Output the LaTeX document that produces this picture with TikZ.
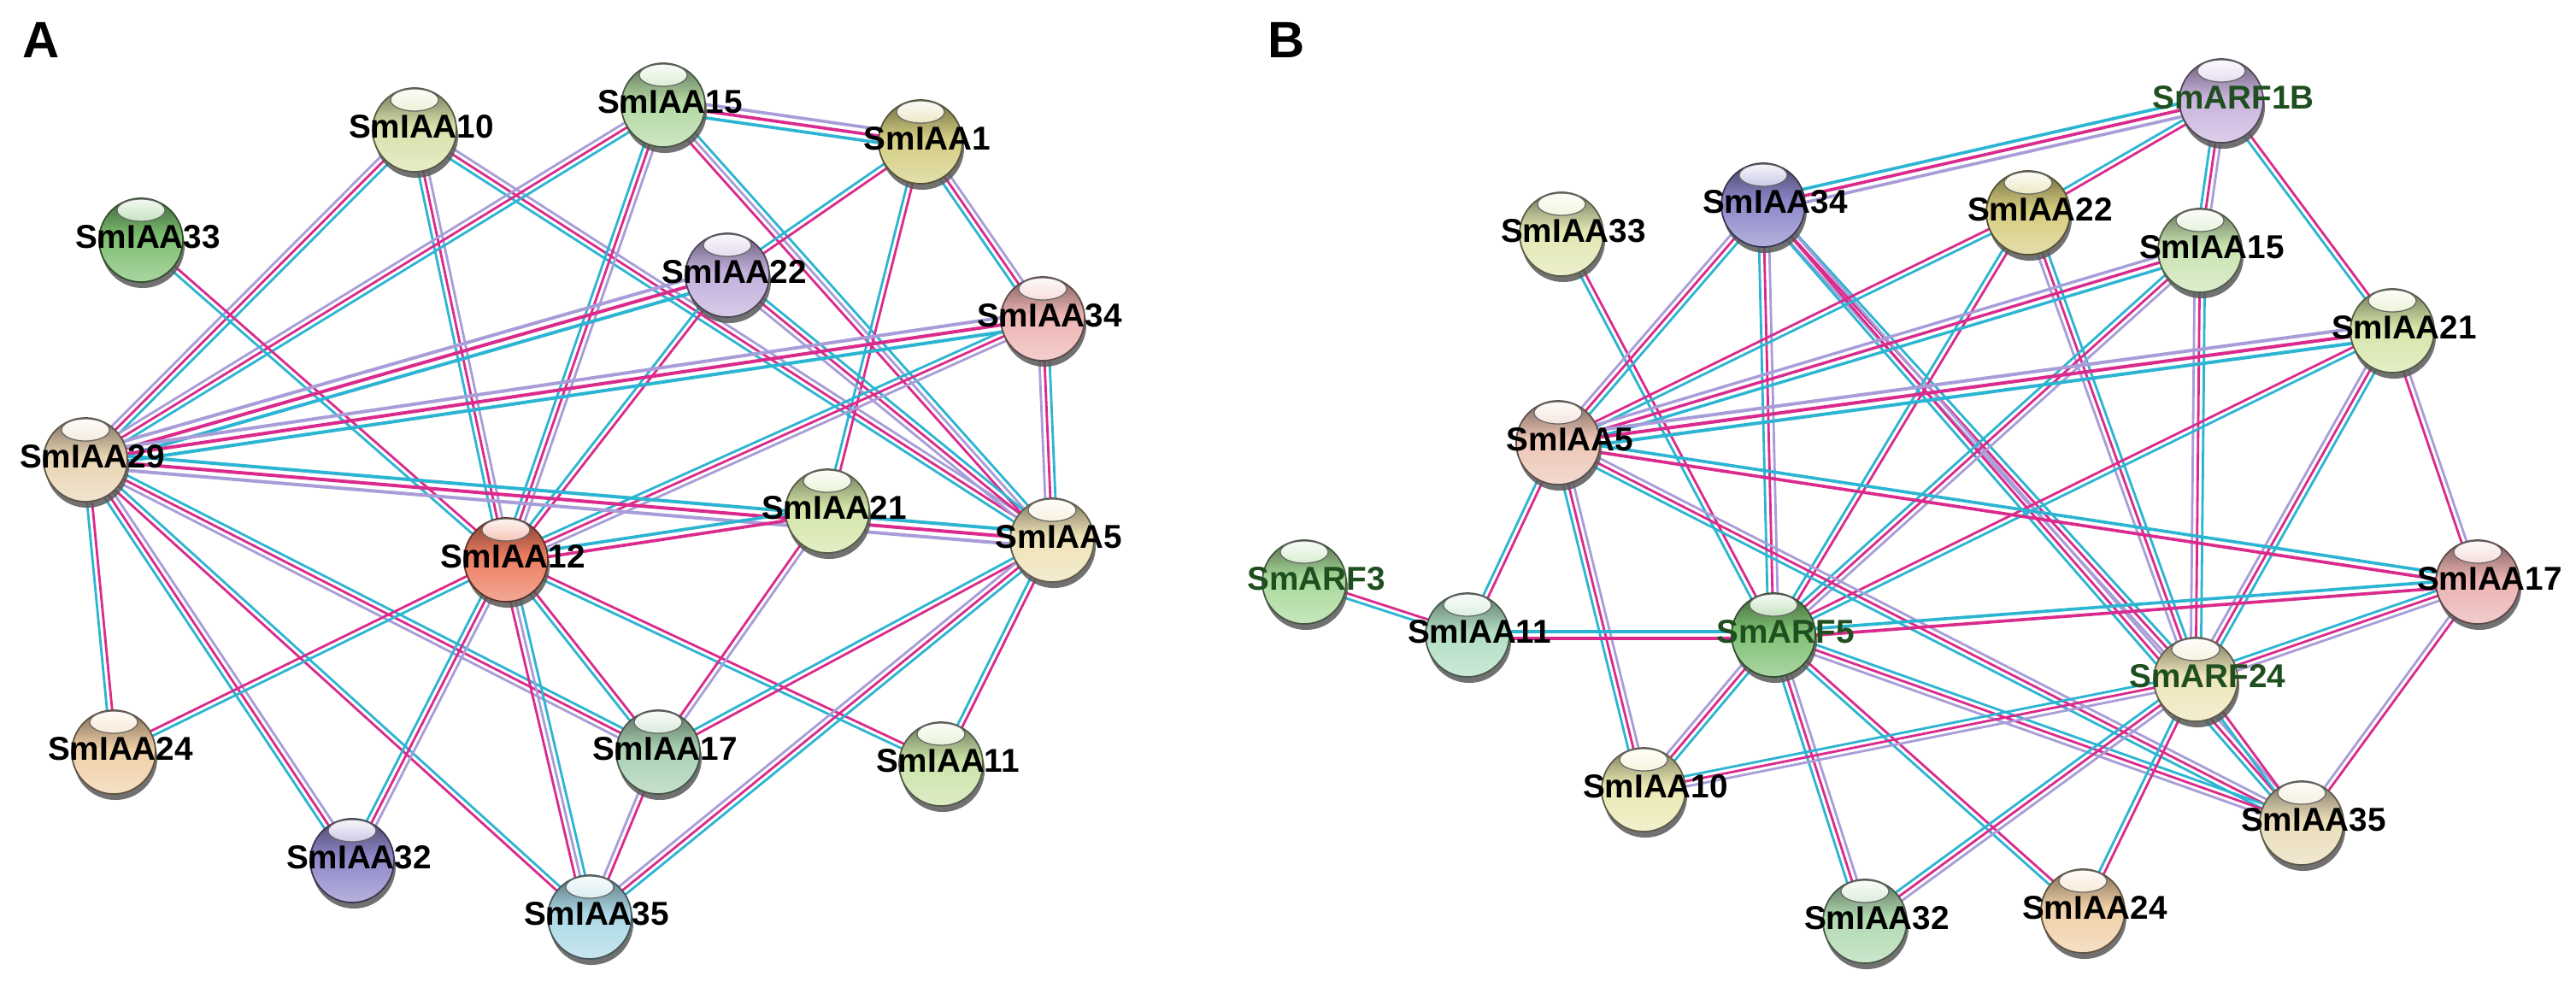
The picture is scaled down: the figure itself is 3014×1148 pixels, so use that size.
\documentclass[tikz,border=0pt]{standalone}
\usepackage{fontspec}
\setmainfont{Liberation Sans}
\usetikzlibrary{calc,backgrounds}
\definecolor{ecy}{HTML}{2CB5D2}
\definecolor{emg}{HTML}{DA2A8C}
\definecolor{elv}{HTML}{A89DD8}
\definecolor{arfg}{HTML}{1F4F1F}
\colorlet{ballc}{gray}
\pgfdeclareverticalshading[ballc]{stringball}{100bp}{
 color(0bp)=(ballc!65!white);
 color(25bp)=(ballc!65!white);
 color(38bp)=(ballc!82!white);
 color(52bp)=(ballc);
 color(64bp)=(ballc!75!black);
 color(75bp)=(ballc!50!black);
 color(100bp)=(ballc!50!black)}
\tikzset{
 ballnode/.style={circle,minimum size=0.98cm,inner sep=0pt,shade,shading=stringball,draw=ballc!40!black,line width=0.5pt},
 hilite/.style={top color=white!92!ballc,bottom color=ballc!45!white,draw=black!60,line width=0.35pt},
 lab/.style={font=\fontsize{11}{13}\selectfont\bfseries,anchor=base,inner sep=0pt},
 panel/.style={font=\fontsize{17}{20}\selectfont\bfseries,inner sep=0pt}
}
\def\lxo{8}
\newcommand\sball[6]{%
 \definecolor{ballc}{HTML}{#4}%
 \fill[black!65,opacity=0.85] (#2+2,#3+7) circle[radius=0.49cm];
 \node[ballnode] (#1) at (#2,#3) {};
 \path[hilite] (#2,#3-35) ellipse[x radius=0.28cm,y radius=0.13cm];
 \node[lab,text=#6] (#1l) at (#2+\lxo,#3+9) {#5};
}
\newcommand\Eline[7]{\draw[line width=#7pt,draw=#6] ($(#1)!#3pt!#4:(#2)$) -- ($(#2)!#3pt!#5:(#1)$);}
\newcommand\Etwo[5][1]{%
 \pgfmathsetmacro\eo{0.85*#1}\pgfmathsetmacro\ew{0.8*#1}%
 \Eline{#2}{#3}{\eo}{90}{-90}{#4}{\ew}%
 \Eline{#2}{#3}{\eo}{-90}{90}{#5}{\ew}}
\newcommand\Ethree[6][1]{%
 \pgfmathsetmacro\eo{1.7*#1}\pgfmathsetmacro\ew{0.8*#1}%
 \Eline{#2}{#3}{\eo}{90}{-90}{#4}{\ew}%
 \Eline{#2}{#3}{0}{90}{-90}{#5}{\ew}%
 \Eline{#2}{#3}{\eo}{-90}{90}{#6}{\ew}}
\begin{document}
\begin{tikzpicture}[x=0.01cm,y=-0.01cm]
\useasboundingbox (0,0) rectangle (3014,1148);
\node[panel] (pA) at (48,47) {A};
\node[panel] (pB) at (1505,47) {B};
% ---------- Panel A nodes
\sball{a10}{485}{152}{D9E1AA}{SmIAA10}{black}
\sball{a15}{776}{123}{B3D8A3}{SmIAA15}{black}
\sball{a1}{1077}{166}{D4CD82}{SmIAA1}{black}
\sball{a33}{165}{281}{7DBF70}{SmIAA33}{black}
\sball{a22}{851}{322}{C2AFDC}{SmIAA22}{black}
\sball{a34}{1220}{373}{EDB4B3}{SmIAA34}{black}
\sball{a29}{100}{538}{E9D4B3}{SmIAA29}{black}
\sball{a12}{592}{655}{EC7C5F}{SmIAA12}{black}
\sball{a21}{968}{598}{D3E5A8}{SmIAA21}{black}
\sball{a5}{1231}{632}{EEE2B7}{SmIAA5}{black}
\sball{a24}{133}{880}{F0CFA6}{SmIAA24}{black}
\sball{a17}{770}{880}{A9D0B2}{SmIAA17}{black}
\sball{a11}{1101}{894}{CBE3A8}{SmIAA11}{black}
\sball{a32}{412}{1007}{8F88C9}{SmIAA32}{black}
\sball{a35}{690}{1073}{ABD8E6}{SmIAA35}{black}
% ---------- Panel B nodes
\def\lxo{14}
\sball{b1B}{2599}{118}{C9B3DD}{SmARF1B}{arfg}
\sball{b34}{2063}{240}{8C88CA}{SmIAA34}{black}
\sball{b22}{2373}{249}{D6CC7E}{SmIAA22}{black}
\sball{b33}{1827}{274}{E2E7B2}{SmIAA33}{black}
\sball{b15}{2574}{293}{C9E4B2}{SmIAA15}{black}
\sball{b21}{2799}{387}{D5E5A9}{SmIAA21}{black}
\sball{b5}{1823}{518}{ECC5B5}{SmIAA5}{black}
\sball{b3}{1526}{681}{A9D99A}{SmARF3}{arfg}
\sball{b11}{1717}{743}{B1DDC2}{SmIAA11}{black}
\sball{b5F}{2075}{743}{7EC173}{SmARF5}{arfg}
\sball{b17}{2899}{681}{EBB1B1}{SmIAA17}{black}
\sball{b24F}{2569}{795}{EEE5BA}{SmARF24}{arfg}
\sball{b10}{1923}{924}{EAE9B2}{SmIAA10}{black}
\sball{b35}{2693}{963}{E9DCB9}{SmIAA35}{black}
\sball{b32}{2182}{1078}{B1D9B1}{SmIAA32}{black}
\sball{b24}{2437}{1066}{F0CFA6}{SmIAA24}{black}
\begin{pgfonlayer}{background}
\fill[white] (0,0) rectangle (3014,1148);
% ---------- Panel A edges
\Ethree{a10}{a29}{ecy}{emg}{elv}
\Ethree{a10}{a12}{elv}{emg}{ecy}
\Ethree{a10}{a5}{elv}{emg}{ecy}
\Ethree[1.3]{a15}{a1}{elv}{emg}{ecy}
\Ethree{a15}{a29}{ecy}{emg}{elv}
\Ethree{a15}{a12}{elv}{emg}{ecy}
\Ethree{a15}{a5}{ecy}{elv}{emg}
\Etwo{a1}{a22}{emg}{ecy}
\Ethree{a1}{a34}{elv}{emg}{ecy}
\Etwo{a1}{a21}{emg}{ecy}
\Etwo{a33}{a12}{emg}{ecy}
\Ethree[1.4]{a22}{a29}{ecy}{emg}{elv}
\Etwo{a22}{a12}{emg}{ecy}
\Ethree{a22}{a5}{ecy}{emg}{elv}
\Ethree[1.4]{a34}{a29}{ecy}{emg}{elv}
\Ethree{a34}{a12}{elv}{emg}{ecy}
\Ethree{a34}{a5}{ecy}{emg}{elv}
\Ethree[1.4]{a29}{a5}{ecy}{emg}{elv}
\Etwo{a29}{a24}{emg}{ecy}
\Ethree{a29}{a32}{elv}{emg}{ecy}
\Etwo{a29}{a35}{ecy}{emg}
\Ethree{a29}{a17}{ecy}{emg}{elv}
\Etwo[1.3]{a12}{a21}{ecy}{emg}
\Etwo{a12}{a24}{ecy}{emg}
\Ethree{a12}{a32}{elv}{emg}{ecy}
\Ethree{a12}{a35}{ecy}{elv}{emg}
\Etwo{a12}{a17}{emg}{ecy}
\Etwo{a12}{a11}{emg}{ecy}
\Etwo{a21}{a17}{elv}{emg}
\Etwo{a5}{a17}{emg}{ecy}
\Ethree{a5}{a35}{ecy}{emg}{elv}
\Etwo{a5}{a11}{emg}{ecy}
\Etwo{a17}{a35}{emg}{elv}
% ---------- Panel B edges
\Ethree[1.3]{b1B}{b34}{elv}{emg}{ecy}
\Etwo{b1B}{b22}{emg}{ecy}
\Ethree{b1B}{b15}{elv}{emg}{ecy}
\Etwo{b1B}{b21}{emg}{ecy}
\Etwo{b33}{b5F}{emg}{ecy}
\Ethree{b34}{b5}{ecy}{emg}{elv}
\Ethree{b34}{b5F}{elv}{emg}{ecy}
\Ethree{b34}{b24F}{ecy}{emg}{elv}
\Ethree{b34}{b35}{elv}{emg}{ecy}
\Etwo{b22}{b5}{ecy}{emg}
\Etwo{b22}{b5F}{emg}{ecy}
\Ethree{b22}{b24F}{ecy}{emg}{elv}
\Ethree[1.2]{b15}{b5}{ecy}{emg}{elv}
\Ethree{b15}{b5F}{elv}{emg}{ecy}
\Ethree{b15}{b24F}{ecy}{emg}{elv}
\Ethree[1.4]{b21}{b5}{ecy}{emg}{elv}
\Etwo{b21}{b5F}{ecy}{emg}
\Ethree{b21}{b24F}{ecy}{emg}{elv}
\Etwo{b21}{b17}{elv}{emg}
\Etwo[1.3]{b5}{b17}{ecy}{emg}
\Ethree{b5}{b35}{elv}{emg}{ecy}
\Etwo{b5}{b11}{emg}{ecy}
\Ethree{b5}{b10}{elv}{emg}{ecy}
\Etwo{b3}{b11}{emg}{ecy}
\Etwo[1.4]{b11}{b5F}{ecy}{emg}
\Etwo[1.3]{b5F}{b17}{ecy}{emg}
\Ethree{b5F}{b10}{ecy}{emg}{elv}
\Ethree{b5F}{b32}{elv}{emg}{ecy}
\Etwo{b5F}{b24}{emg}{ecy}
\Ethree{b5F}{b35}{ecy}{emg}{elv}
\Ethree{b24F}{b17}{ecy}{emg}{elv}
\Etwo{b24F}{b35}{emg}{ecy}
\Etwo{b24F}{b24}{emg}{ecy}
\Ethree{b24F}{b32}{elv}{emg}{ecy}
\Ethree{b24F}{b10}{elv}{emg}{ecy}
\Etwo{b17}{b35}{emg}{elv}
\end{pgfonlayer}
\end{tikzpicture}
\end{document}
